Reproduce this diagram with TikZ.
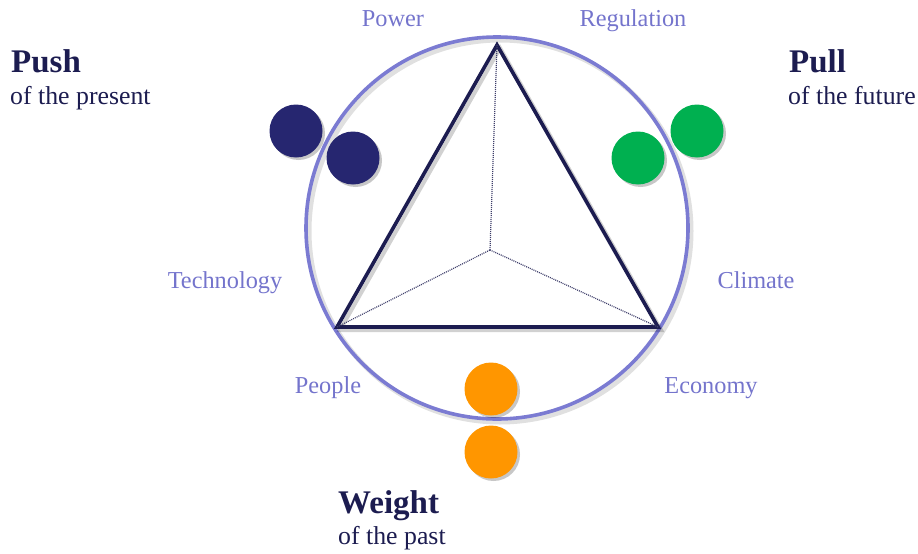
\documentclass[tikz,border=0pt]{standalone}
\usepackage{fontspec}
\setmainfont{Liberation Serif}
\usetikzlibrary{shadows}
\definecolor{navy}{HTML}{262670}
\definecolor{darknavy}{HTML}{1C1C50}
\definecolor{ringblue}{HTML}{7B7BD2}
\definecolor{lbl}{HTML}{7474CC}
\definecolor{grn}{HTML}{00B050}
\definecolor{org}{HTML}{FF9600}
\tikzset{
  dot/.style={circle, minimum size=53pt, inner sep=0pt, draw=none,
    drop shadow={shadow xshift=2.5pt, shadow yshift=-2.5pt, fill=black, opacity=0.22}},
  lab/.style={text=lbl, font=\fontsize{24.3}{27}\selectfont, inner sep=0pt},
  head/.style={text=darknavy, font=\fontsize{33}{36}\selectfont\bfseries, inner sep=0pt, anchor=base west},
  sub/.style={text=darknavy, font=\fontsize{25.8}{29}\selectfont, inner sep=0pt, anchor=base west},
  tri/.style={draw=darknavy, line width=3.6pt, line join=miter},
  dotl/.style={draw=darknavy!85, line width=1.2pt, dash pattern=on 1pt off 1pt},
}
\begin{document}
\begin{tikzpicture}[x=1pt,y=-1pt]
\useasboundingbox (0,0) rectangle (918,554);
% coordinates
\coordinate (C) at (497,228);
\coordinate (A) at (497,45);
\coordinate (L) at (337,327);
\coordinate (R) at (658,327);
\coordinate (M) at (490,250);
% shadow of ring
\draw[black, opacity=0.12, line width=5pt] ([shift={(3,3)}]C) circle[radius=191];
\draw[ringblue, line width=3.6pt] (C) circle[radius=191];
% triangle shadow
\draw[black, opacity=0.18, line width=4pt, line join=miter] ([shift={(3,3)}]A) -- ([shift={(3,3)}]R) -- ([shift={(3,3)}]L) -- cycle;
\draw[tri] (A) -- (R) -- (L) -- cycle;
% dotted internal lines
\draw[dotl] (A) -- (M);
\draw[dotl] (L) -- (M);
\draw[dotl] (R) -- (M);
% colored dots
\node[dot, fill=navy] (b1) at (296,131) {};
\node[dot, fill=navy] (b2) at (353,158) {};
\node[dot, fill=grn] (g1) at (638,158) {};
\node[dot, fill=grn] (g2) at (697,131) {};
\node[dot, fill=org] (o1) at (491,389) {};
\node[dot, fill=org] (o2) at (491,452) {};
% labels
\node[lab, anchor=base] (power) at (393,27) {Power};
\node[lab, anchor=base] (reg) at (633,27) {Regulation};
\node[lab, anchor=base] (tech) at (225,288) {Technology};
\node[lab, anchor=base] (clim) at (756,288) {Climate};
\node[lab, anchor=base] (people) at (328,393) {People};
\node[lab, anchor=base] (econ) at (711,393) {Economy};
% headings
\node[head] (push) at (11,72) {Push};
\node[sub] (pushs) at (10,104) {of the present};
\node[head] (pull) at (789,72) {Pull};
\node[sub] (pulls) at (788,104) {of the future};
\node[head] (weight) at (338,513) {Weight};
\node[sub] (weights) at (338,544) {of the past};
\end{tikzpicture}
\end{document}
